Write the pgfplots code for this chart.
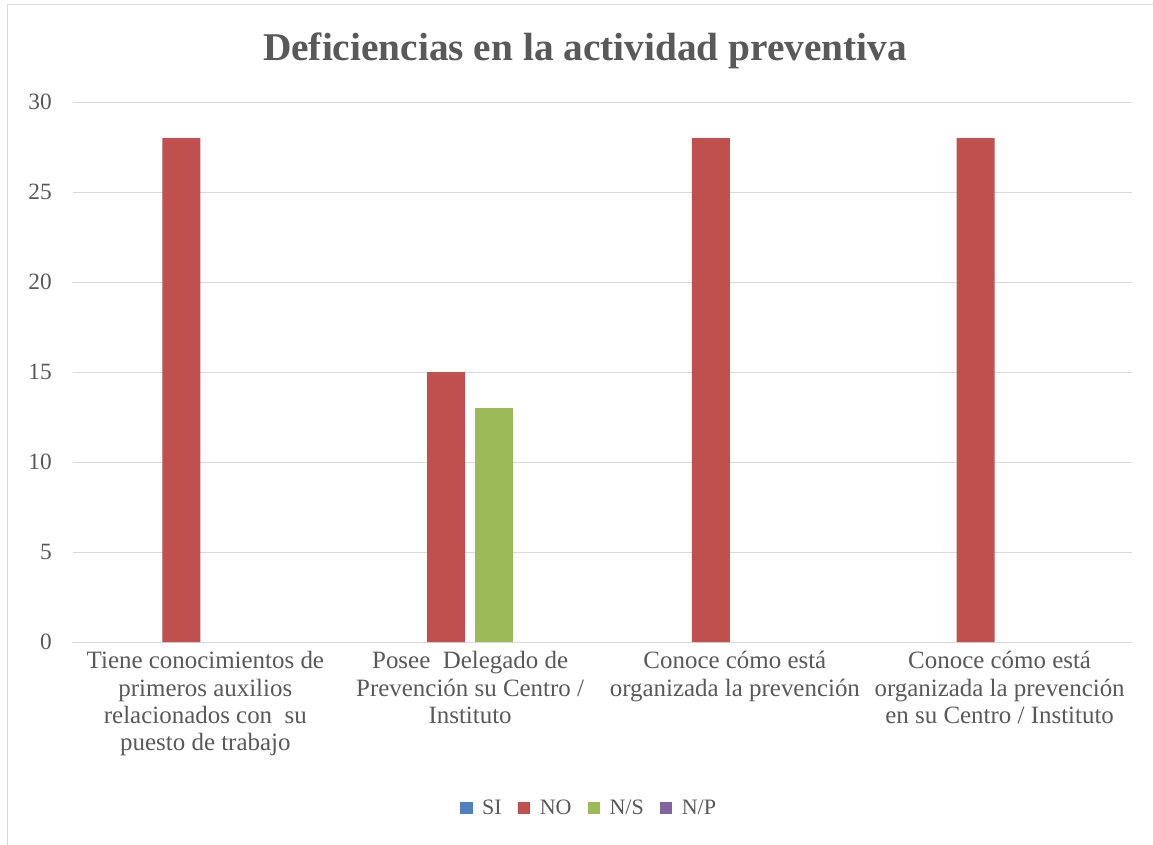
\documentclass[border=0pt]{standalone}
\usepackage{pgfplots}
\pgfplotsset{compat=1.18}
\usepackage{fontspec}
\setmainfont{Liberation Serif}
\definecolor{gridc}{HTML}{D9D9D9}
\definecolor{txt}{HTML}{595959}
\definecolor{siC}{HTML}{4F81BD}
\definecolor{noC}{HTML}{C0504D}
\definecolor{nsC}{HTML}{9BBB59}
\definecolor{npC}{HTML}{8064A2}
\begin{document}
\begin{tikzpicture}
\useasboundingbox (-54.75pt,-151.5pt) rectangle (810pt,481.5pt);
\fill[white] (-54.75pt,-151.5pt) rectangle (810pt,481.5pt);
\draw[gridc, line width=0.75pt] (-48.75pt,-160pt) -- (-48.75pt,477.75pt) -- (820pt,477.75pt);
\node[anchor=base, text=txt, font=\fontsize{29.5}{34}\selectfont\bfseries, inner sep=0pt] at (384pt,435.75pt) {Deficiencias en la actividad preventiva};
\begin{axis}[
  at={(0,0)}, anchor=south west, scale only axis,
  width=794.25pt, height=405pt,
  xmin=-0.5, xmax=3.5, ymin=0, ymax=30,
  ybar=7.5pt, bar width=28.5pt,
  xtick={0,1,2,3},
  xticklabels={{Tiene conocimientos de\\primeros auxilios\\relacionados con\ \ su\\puesto de trabajo},
               {Posee\ \ Delegado de\\Prevención su Centro /\\Instituto},
               {Conoce cómo está\\organizada la prevención},
               {Conoce cómo está\\organizada la prevención\\en su Centro / Instituto}},
  ytick={0,5,...,30},
  /pgf/number format/assume math mode=true,
  major tick length=0pt,
  axis x line=bottom, axis y line=left,
  axis line style={-},
  x axis line style={draw=gridc, line width=0.75pt},
  y axis line style={draw=none},
  ymajorgrids, major grid style={draw=gridc, line width=0.75pt},
  xticklabel style={align=center, font=\fontsize{18.7}{20.5}\selectfont, text=txt, anchor=north, inner sep=0pt, yshift=-6.9pt},
  yticklabel style={font=\fontsize{17.5}{20}\selectfont, text=txt, anchor=east, inner sep=0pt, xshift=-15.75pt},
  legend style={draw=none, fill=none, at={(0.4877,-0.3074)}, anchor=center, legend columns=-1,
    font=\fontsize{16.5}{19}\selectfont, text=txt,
    /tikz/every odd column/.append style={column sep=5pt},
    /tikz/every even column/.append style={column sep=10pt}},
  legend image code/.code={\fill[#1] (0pt,-4.75pt) rectangle (9.5pt,4.75pt);},
  clip=false,
]
\addplot[fill=siC, draw=none, fill opacity=0,
  legend image code/.code={\fill[siC, fill opacity=1] (0pt,-4.75pt) rectangle (9.5pt,4.75pt);}]
  coordinates {(0,0) (1,0) (2,0) (3,0)};
\addplot[fill=noC, draw=none] coordinates {(0,28) (1,15) (2,28) (3,28)};
\addplot[fill=nsC, draw=none, y filter/.expression={y==0 ? nan : y}]
  coordinates {(0,0) (1,13) (2,0) (3,0)};
\addplot[fill=npC, draw=none, fill opacity=0,
  legend image code/.code={\fill[npC, fill opacity=1] (0pt,-4.75pt) rectangle (9.5pt,4.75pt);}]
  coordinates {(0,0) (1,0) (2,0) (3,0)};
\legend{SI,NO,N/S,N/P}
\end{axis}
\end{tikzpicture}
\end{document}
